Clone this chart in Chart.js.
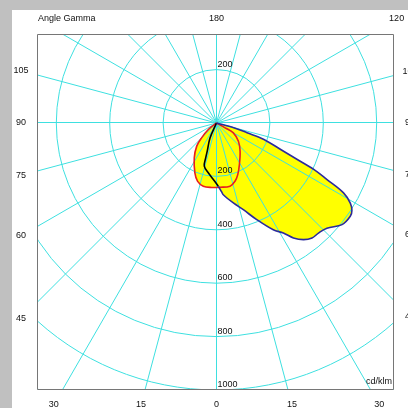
<!DOCTYPE html>
<html>
<head>
<meta charset="utf-8">
<script src="https://cdn.jsdelivr.net/npm/chart.js@4/dist/chart.umd.min.js"></script>
<style>
  html, body { margin: 0; padding: 0; background: #c0c0c0; overflow: hidden; }
  #sheet { position: absolute; left: 12px; top: 10px; width: 396px; height: 398px; background: #fff; }
</style>
</head>
<body>
<div id="sheet"><canvas id="c"></canvas></div>
<script>
(function () {
    'use strict';

    // C0-C180 plane, signed gamma (negative = C180 half, drawn on the left)
    var planeAGamma = [-25, -23.3, -18.3, -17.2, -15.8, -9.4, -3.2, 1.6, 4.3,
        5.4, 11.9, 17.2, 22.6, 28, 31.3, 33.8, 36.7, 39.7, 42.8,
        46.4, 51, 55.1, 57.1, 59.1, 61.2, 62.9, 64.5, 65.7, 67.6,
        70.9, 72.4, 74.8, 80];
    var planeAIntensity = [0, 62, 110, 137, 168, 189, 212, 237, 259,
        270, 306, 340, 392, 453, 482, 518, 545, 560, 562,
        571, 605, 611, 604, 584, 543, 465, 405, 332, 260,
        188, 120, 67, 0];
    var planeADark = 8; // leading points belong to the C180 half (black)

    // C90-C270 plane
    var planeBGamma = [60, 60.5, 59.7, 50.1, 39.8, 28.8, 22.4, 17.6, 12.1, 3.1,
        -4.3, -11.8, -17.9, -23.4, -32.5, -40.5, -45, -51.6, -55];
    var planeBIntensity = [0, 37, 73, 107, 138, 178, 209, 229, 242, 241,
        242, 242, 230, 204, 155, 114, 79, 39, 0];

    var ringValues = [200, 400, 600, 800, 1000];
    var ringStep = 200, ringMax = 1400, spokeStep = 15;
    var angleTicks = [-105, -90, -75, -60, -45, -30, -15, 0, 15, 30, 45, 60, 75, 90, 105, 120, 180];

    var GRID = '#3ee0e0', YELLOW = '#ffff00', RED = '#e81e1e', BLUE = '#2a2a9c';
    var FONT = '9px "Liberation Sans", Arial, sans-serif';

    function polarXY(g, i) {
        var r = g * Math.PI / 180;
        return { x: i * Math.sin(r), y: -i * Math.cos(r) };
    }
    function toPoints(gs, is) {
        return gs.map(function (g, k) { return polarXY(g, is[k]); });
    }

    // distance from (cx,cy) along (dx,dy) to the edge of a box
    function rayToBox(cx, cy, dx, dy, L, T, R, B) {
        var t = Infinity;
        if (dx > 1e-9) t = Math.min(t, (R - cx) / dx);
        if (dx < -1e-9) t = Math.min(t, (L - cx) / dx);
        if (dy > 1e-9) t = Math.min(t, (B - cy) / dy);
        if (dy < -1e-9) t = Math.min(t, (T - cy) / dy);
        return t;
    }

    var polarGrid = {
        id: 'polarGrid',
        // runs after the filler (drawTime beforeDatasetsDraw), so the grid sits on the yellow
        beforeDatasetsDraw: function (chart) {
            var ctx = chart.ctx, a = chart.chartArea, xs = chart.scales.x, ys = chart.scales.y;
            var cx = xs.getPixelForValue(0), cy = ys.getPixelForValue(0);
            ctx.save();
            ctx.beginPath();
            ctx.rect(a.left, a.top, a.right - a.left, a.bottom - a.top);
            ctx.clip();
            ctx.strokeStyle = GRID;
            ctx.lineWidth = 1;
            for (var v = ringStep; v <= ringMax; v += ringStep) {
                var rr = xs.getPixelForValue(v) - cx;
                ctx.beginPath();
                ctx.moveTo(cx + rr, cy);
                ctx.arc(cx, cy, rr, 0, 2 * Math.PI);
                ctx.stroke();
            }
            for (var g = 0; g < 360; g += spokeStep) {
                var r = g * Math.PI / 180, dx = Math.sin(r), dy = Math.cos(r);
                var ox = cx, oy = cy;
                if (g % 180 === 90) oy = Math.floor(cy) + 0.5; // keep the 90° line crisp
                var t = rayToBox(ox, oy, dx, dy, a.left, a.top, a.right, a.bottom);
                ctx.beginPath();
                ctx.moveTo(ox, oy);
                ctx.lineTo(ox + dx * t, oy + dy * t);
                ctx.stroke();
            }
            ctx.restore();
        },
        afterDatasetsDraw: function (chart) {
            var ctx = chart.ctx, a = chart.chartArea;
            var l = Math.round(a.left) + 0.5, t = Math.round(a.top) + 0.5;
            var r = Math.round(a.right) - 0.5, b = Math.round(a.bottom) - 0.5;
            ctx.save();
            ctx.strokeStyle = '#767676';
            ctx.lineWidth = 1;
            ctx.beginPath();
            ctx.moveTo(l, t);
            ctx.lineTo(r, t);
            ctx.lineTo(r, b);
            ctx.lineTo(l, b);
            ctx.closePath();
            ctx.stroke();
            ctx.restore();
        },
        afterDraw: function (chart) {
            var ctx = chart.ctx, a = chart.chartArea, xs = chart.scales.x, ys = chart.scales.y;
            var cx = xs.getPixelForValue(0), cy = ys.getPixelForValue(0);
            ctx.save();
            ctx.font = FONT;
            ctx.fillStyle = '#111';

            // intensity rings, label sits just above each ring
            ctx.textAlign = 'left';
            ctx.textBaseline = 'bottom';
            ringValues.forEach(function (v) {
                [-v, v].forEach(function (yv) {
                    var y = ys.getPixelForValue(yv);
                    if (y > a.top + 10 && y <= a.bottom + 1) ctx.fillText(String(v), cx + 1, y - 1);
                });
            });

            ctx.textBaseline = 'middle';
            ctx.textAlign = 'right';
            ctx.fillText('cd/klm', a.right - 2, a.bottom - 8);
            ctx.textAlign = 'left';
            ctx.fillText('Angle Gamma', a.left + 1, a.top - 15);

            // gamma labels along the rays, out past the frame
            ctx.textAlign = 'center';
            angleTicks.forEach(function (g) {
                var r = g * Math.PI / 180, dx = Math.sin(r), dy = Math.cos(r);
                var t = rayToBox(cx, cy, dx, dy, a.left - 16, a.top - 15, a.right + 16, a.bottom + 15);
                ctx.fillText(String(Math.abs(g)), cx + dx * t, cy + dy * t);
            });
            ctx.restore();
        }
    };

    new Chart(document.getElementById('c'), {
        type: 'scatter',
        data: {
            datasets: [{
                data: toPoints(planeAGamma, planeAIntensity),
                showLine: true,
                fill: 'shape',
                backgroundColor: YELLOW,
                borderColor: BLUE,
                borderWidth: 1.6,
                pointRadius: 0,
                tension: 0.35,
                segment: {
                    borderColor: function (s) { return s.p1DataIndex < planeADark ? '#000' : undefined; }
                }
            }, {
                data: toPoints(planeBGamma, planeBIntensity),
                showLine: true,
                fill: 'shape',
                backgroundColor: YELLOW,
                borderColor: RED,
                borderWidth: 1.6,
                pointRadius: 0,
                tension: 0.35
            }]
        },
        options: {
            responsive: true,
            maintainAspectRatio: false,
            animation: false,
            events: [],
            layout: { padding: { left: 25, top: 24, right: 14, bottom: 18 } },
            scales: {
                x: { type: 'linear', min: -672.3, max: 664.8, display: false },
                y: { type: 'linear', min: -1000, max: 333.3, display: false }
            },
            plugins: {
                legend: { display: false },
                tooltip: { enabled: false },
                filler: { drawTime: 'beforeDatasetsDraw' }
            }
        },
        plugins: [polarGrid]
    });
})();
</script>
</body>
</html>
